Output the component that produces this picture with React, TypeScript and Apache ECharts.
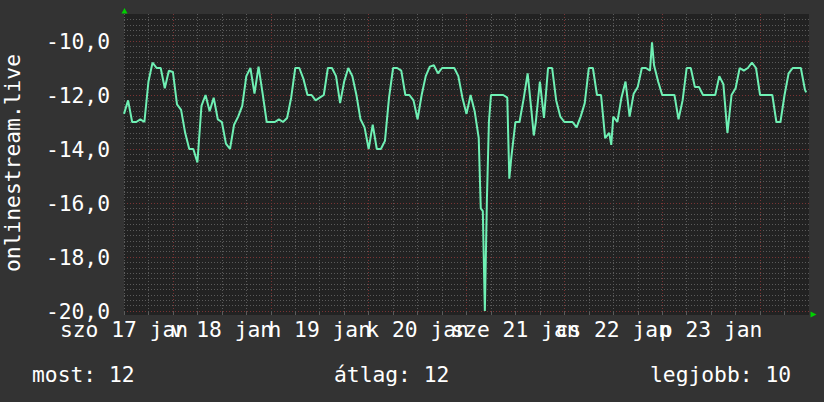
import React, { useEffect, useRef } from 'react';
import * as echarts from 'echarts';

// hours since 17 jan 00:00
const times = [
  12, 13, 14, 15, 16, 17, 18, 19, 20, 21, 22, 23, 24, 25, 26, 27, 28, 29, 30, 31, 32, 33, 34, 35, 36, 37, 38, 39,
  40, 41, 42, 43, 44, 45, 46, 47, 48, 49, 50, 51, 52, 53, 54, 55, 56, 57, 58, 59, 60, 61, 62, 63, 64, 65, 66, 67, 68,
  69, 70, 71, 72, 73, 74, 75, 76, 77, 78, 79, 80, 81, 82, 83, 84, 85, 86, 87, 88, 89, 90, 91, 92, 93, 94, 95, 96,
  97, 98, 99, 99.5, 100, 100.5, 101, 101.5, 102, 103, 104, 105, 106, 106.5, 107, 108, 109, 110, 111, 112, 112.5, 113,
  114, 115, 116, 117, 118, 119, 120, 121, 122, 123, 124, 125, 126, 127, 128, 129, 130, 131, 131.5, 132, 133, 134,
  135, 136, 137, 138, 139, 140, 141, 141.5, 142, 143, 144, 145, 146, 147, 148, 149, 150, 151, 152, 153, 154, 155,
  156, 157, 158, 159, 160, 161, 162, 163, 164, 165, 166, 167, 168, 169, 170, 171, 172, 173, 174, 175, 176, 177, 178,
  179, 179.3,
];

const values = [
  -12.7, -12.2, -13.0, -13.0, -12.9, -13.0, -11.5, -10.8, -11.0, -11.0, -11.75, -11.1, -11.15, -12.35, -12.55, -13.4,
  -14.0, -14.0, -14.5, -12.4, -12.0, -12.6, -12.1, -12.9, -13.0, -13.8, -14.0, -13.1,
  -12.8, -12.4, -11.3, -11.0, -11.95, -10.95, -11.95, -13.0, -13.0, -13.0, -12.9, -13.0, -12.85, -12.1, -11.0, -11.0,
  -11.4, -12.0, -12.0, -12.2, -12.1, -12.0, -11.0, -11.0, -11.3, -12.3, -11.5, -11.0, -11.3,
  -12.0, -12.9, -13.2, -14.0, -13.1, -14.0, -14.0, -13.7, -12.1, -11.0, -11.0, -11.1, -12.0, -12.0, -12.2, -12.9,
  -12.0, -11.3, -10.95, -10.9, -11.2, -11.0, -11.0, -11.0, -11.0, -11.3, -12.1, -12.7,
  -12.0, -12.6, -13.6, -16.2, -16.3, -20.0, -15.9, -13.0, -12.0, -12.0, -12.0, -12.0, -12.1, -15.1, -14.3, -13.0,
  -13.0, -12.15, -11.2, -12.7, -13.5, -13.0,
  -11.5, -12.85, -11.0, -11.0, -12.2, -12.8, -13.0, -13.0, -13.0, -13.2, -12.8, -12.3, -11.0, -11.0, -12.0, -12.0,
  -13.6, -13.4, -13.85, -12.8, -13.0, -12.1,
  -11.5, -12.8, -11.95, -11.7, -11.0, -11.0, -11.1, -10.05, -10.9, -11.5, -12.0, -12.0, -12.0, -12.0, -12.9, -12.2,
  -11.0, -11.0, -11.7, -11.7, -12.0, -12.0,
  -12.0, -12.0, -11.3, -11.6, -13.4, -12.0, -11.75, -11.0, -11.1, -11.0, -10.8, -11.0, -12.0, -12.0, -12.0, -12.0,
  -13.0, -13.0, -12.0, -11.2, -11.0, -11.0, -11.0,
  -11.8, -11.9,
];

const dayLabels = ['szo 17 jan', 'v 18 jan', 'h 19 jan', 'k 20 jan', 'sze 21 jan', 'cs 22 jan', 'p 23 jan'];
const yTitle = 'onlinestream.live';
const legendNames = ['most', 'átlag', 'legjobb'];
const legendValues = [12, 12, 10];

const FONT = '"DejaVu Sans Mono", monospace';
const FS = 21.3;
const GRAY = '#5a5a5a';
const RED = '#7a3434';

export default function App() {
  const ref = useRef<HTMLDivElement>(null);

  useEffect(() => {
    document.body.style.margin = '0';
    const chart = echarts.init(ref.current!, null, { renderer: 'svg' });
    const legendX = [32, 334, 650];
    chart.setOption({
      animation: false,
      backgroundColor: '#333333',
      grid: {
        left: 124,
        right: 15,
        top: 14,
        bottom: 91,
        show: true,
        backgroundColor: '#222222',
        borderWidth: 0,
      },
      xAxis: {
        type: 'value',
        min: 12,
        max: 180,
        interval: 6,
        axisLine: { show: false },
        axisTick: { show: true, length: 4, lineStyle: { color: GRAY } },
        axisLabel: {
          color: '#ffffff',
          fontFamily: FONT,
          fontSize: FS,
          margin: 8,
          showMaxLabel: false,
          formatter: (v: number) => {
            const d = (v - 12) / 24;
            return Number.isInteger(d) && dayLabels[d] ? dayLabels[d] : '';
          },
        },
        splitLine: {
          show: true,
          showMaxLine: false,
          lineStyle: { color: [GRAY, GRAY, RED, GRAY], type: [1, 2], width: 1 },
        },
      },
      yAxis: {
        type: 'value',
        min: -20,
        max: -9,
        interval: 2,
        axisLine: { show: false },
        axisTick: { show: false },
        axisLabel: {
          color: '#ffffff',
          fontFamily: FONT,
          fontSize: FS,
          margin: 14,
          showMaxLabel: false,
          formatter: (v: number) => v.toFixed(1).replace('.', ','),
        },
        splitLine: { show: true, showMaxLine: false, lineStyle: { color: RED, type: [1, 2], width: 1 } },
        minorTick: { show: false, splitNumber: 10 },
        minorSplitLine: { show: true, lineStyle: { color: GRAY, type: [1, 2], width: 1 } },
      },
      series: [
        {
          type: 'line',
          data: times.map((t, i) => [t, values[i]]),
          showSymbol: false,
          symbol: 'none',
          lineStyle: { color: '#6ff0b4', width: 2 },
          z: 5,
        },
      ],
      graphic: [
        {
          type: 'rect',
          z: -1,
          shape: { x: 124, y: 311, width: 685, height: 4 },
          style: { fill: '#222222' },
        },
        {
          type: 'polygon',
          shape: { points: [[121.5, 13.5], [127.5, 13.5], [124.5, 8]] },
          style: { fill: '#00d000' },
        },
        {
          type: 'polygon',
          shape: { points: [[810.5, 311.5], [810.5, 317.5], [816.5, 314.5]] },
          style: { fill: '#00d000' },
        },
        {
          type: 'text',
          x: 12,
          y: 163,
          rotation: Math.PI / 2,
          style: {
            text: yTitle,
            fill: '#ffffff',
            fontFamily: FONT,
            fontSize: FS,
            align: 'center',
            verticalAlign: 'middle',
          },
        },
        ...legendNames.map((n, i) => ({
          type: 'text',
          x: legendX[i],
          y: 374,
          style: {
            text: `${n}: ${legendValues[i]}`,
            fill: '#ffffff',
            fontFamily: FONT,
            fontSize: FS,
            align: 'left',
            verticalAlign: 'middle',
          },
        })),
      ],
    });
    return () => chart.dispose();
  }, []);

  return <div ref={ref} style={{ position: 'absolute', left: 0, top: 0, width: 824, height: 402 }} />;
}
